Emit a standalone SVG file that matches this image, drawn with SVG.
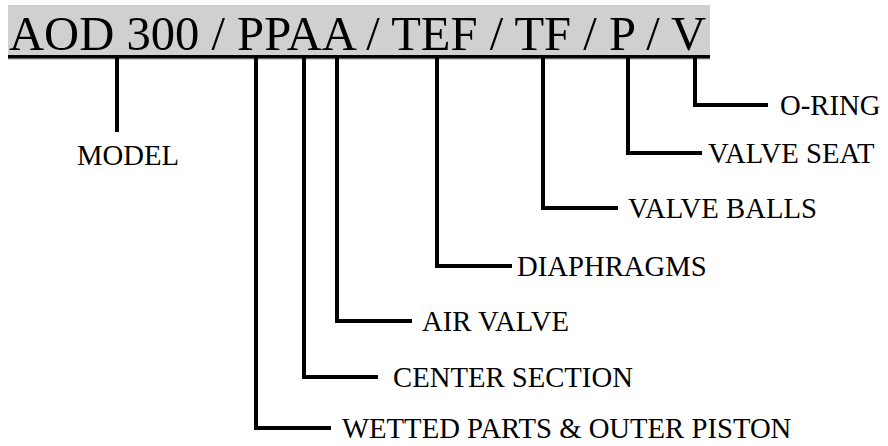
<svg xmlns="http://www.w3.org/2000/svg" width="888" height="446" viewBox="0 0 888 446">
<style>
.lbl{font-family:"Liberation Serif","Times New Roman",Times,serif;font-size:28.7px;fill:#000}
.title{font-family:"Liberation Serif","Times New Roman",Times,serif;font-size:48.6px;fill:#000}
.c{fill:none;stroke:#000;stroke-width:4;stroke-linejoin:miter}
</style>
<rect width="888" height="446" fill="#fff"/>
<g id="header">
<rect x="8" y="5" width="702" height="55" fill="#d1d0d1"/>
<text class="title" x="9" y="50">AOD 300 / PPAA / TEF / TF / P / V</text>
<rect x="8" y="55" width="702" height="3.5" fill="#000"/>
</g>
<g id="connectors">
<path class="c" d="M117,58 V132"/>
<path class="c" d="M256,58 V428 H331"/>
<path class="c" d="M304,58 V377 H378"/>
<path class="c" d="M337,58 V321 H412"/>
<path class="c" d="M437,58 V266 H512"/>
<path class="c" d="M543,58 V208 H618"/>
<path class="c" d="M628,58 V153 H702"/>
<path class="c" d="M695,58 V105 H768"/>
</g>
<g id="model"><text class="lbl" x="77" y="165">MODEL</text></g>
<g id="wetted"><text class="lbl" x="342" y="438">WETTED PARTS &amp; OUTER PISTON</text></g>
<g id="center"><text class="lbl" x="393" y="387">CENTER SECTION</text></g>
<g id="airvalve"><text class="lbl" x="422" y="331">AIR VALVE</text></g>
<g id="diaphragms"><text class="lbl" x="517" y="276">DIAPHRAGMS</text></g>
<g id="valveballs"><text class="lbl" x="628" y="218">VALVE BALLS</text></g>
<g id="valveseat"><text class="lbl" x="708" y="163">VALVE SEAT</text></g>
<g id="oring"><text class="lbl" x="780" y="115">O-RING</text></g>
</svg>
